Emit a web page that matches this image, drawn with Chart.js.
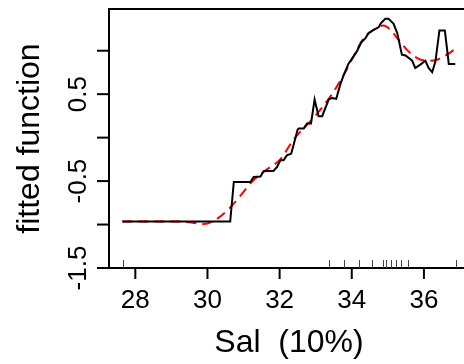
<!DOCTYPE html>
<html>
<head>
<meta charset="utf-8">
<script src="https://cdn.jsdelivr.net/npm/chart.js@4.4.1/dist/chart.umd.min.js"></script>
<style>
  html, body { margin: 0; padding: 0; background: #fff; overflow: hidden; }
  #wrap { width: 480px; height: 364px; }
</style>
</head>
<body>
<div id="wrap"><canvas id="c" width="480" height="364"></canvas></div>
<script>
// fitted function (black, step-like)
const fitX = [27.64, 30.63, 30.73, 31.19, 31.28, 31.47, 31.56, 31.83, 31.93, 32.02, 32.11, 32.2, 32.32, 32.39, 32.5, 32.53, 32.67, 32.76, 32.87, 32.97, 33.08, 33.18, 33.36, 33.45, 33.57, 33.68, 33.77, 33.91, 34.05, 34.14, 34.26, 34.38, 34.47, 34.61, 34.75, 34.81, 34.93, 35.02, 35.16, 35.26, 35.39, 35.49, 35.67, 35.76, 35.9, 36.04, 36.13, 36.23, 36.32, 36.43, 36.58, 36.69, 36.87];
const fitY = [-0.965, -0.965, -0.51, -0.51, -0.453, -0.448, -0.384, -0.384, -0.338, -0.26, -0.26, -0.204, -0.185, -0.078, 0.094, 0.106, 0.106, 0.163, 0.163, 0.438, 0.247, 0.247, 0.438, 0.457, 0.446, 0.61, 0.713, 0.851, 0.935, 0.992, 1.095, 1.145, 1.203, 1.241, 1.272, 1.318, 1.367, 1.367, 1.31, 1.203, 0.954, 0.946, 0.889, 0.801, 0.84, 0.885, 0.801, 0.752, 0.877, 1.233, 1.233, 0.848, 0.848];

// smooth (red dashed)
const smoothX = [27.64, 29.2, 29.6, 29.9, 30.22, 30.63, 30.91, 31.28, 31.65, 32.02, 32.39, 32.94, 33.41, 33.73, 34.05, 34.33, 34.61, 34.88, 35.07, 35.26, 35.53, 35.81, 36.09, 36.36, 36.64, 36.9];
const smoothY = [-0.965, -0.965, -0.98, -0.995, -0.946, -0.804, -0.67, -0.487, -0.365, -0.25, -0.02, 0.228, 0.476, 0.687, 0.935, 1.145, 1.241, 1.29, 1.241, 1.145, 1.01, 0.916, 0.885, 0.897, 0.954, 1.03];

// rug of observed Sal values
const rugX = [27.65, 33.36, 33.79, 34.19, 34.55, 34.86, 34.95, 35.08, 35.23, 35.37, 35.57, 36.88];

const xTicks = [28, 30, 32, 34, 36];
const yTicks = [-1.5, -1, -0.5, 0, 0.5, 1];
const yTickLabels = ['-1.5', '', '-0.5', '', '0.5', ''];

const toPts = (xs, ys) => xs.map((v, i) => ({ x: v, y: ys[i] }));

const FONT = '"Liberation Sans", Arial, sans-serif';

// R-style box, axes, rug and labels
const rAxes = {
  id: 'rAxes',
  afterDraw(chart) {
    const { ctx, chartArea: a, scales: { x, y } } = chart;
    ctx.save();
    ctx.strokeStyle = '#000';
    ctx.fillStyle = '#000';
    ctx.lineWidth = 2;
    ctx.strokeRect(a.left, a.top, a.right - a.left, a.bottom - a.top);

    // rug
    ctx.lineWidth = 1;
    ctx.strokeStyle = '#444';
    rugX.forEach(v => {
      const px = Math.round(x.getPixelForValue(v)) + 0.5;
      ctx.beginPath();
      ctx.moveTo(px, a.bottom);
      ctx.lineTo(px, a.bottom - 8);
      ctx.stroke();
    });

    ctx.strokeStyle = '#000';
    ctx.lineWidth = 2;
    ctx.font = '26px ' + FONT;

    // x axis ticks + labels
    ctx.textAlign = 'center';
    ctx.textBaseline = 'alphabetic';
    xTicks.forEach(v => {
      const px = x.getPixelForValue(v);
      ctx.beginPath();
      ctx.moveTo(px, a.bottom);
      ctx.lineTo(px, a.bottom + 11);
      ctx.stroke();
      ctx.fillText(String(v), px, 308);
    });

    // y axis ticks + rotated labels
    yTicks.forEach((v, i) => {
      const py = y.getPixelForValue(v);
      ctx.beginPath();
      ctx.moveTo(a.left, py);
      ctx.lineTo(a.left - 12, py);
      ctx.stroke();
      if (yTickLabels[i]) {
        ctx.save();
        ctx.translate(86, py);
        ctx.rotate(-Math.PI / 2);
        ctx.fillText(yTickLabels[i], 0, 0);
        ctx.restore();
      }
    });

    // axis titles
    ctx.font = '32px ' + FONT;
    ctx.fillText('Sal  (10%)', (a.left + a.right) / 2, 352);
    ctx.save();
    ctx.translate(39, (a.top + a.bottom) / 2);
    ctx.rotate(-Math.PI / 2);
    ctx.fillText('fitted function', 0, 0);
    ctx.restore();
    ctx.restore();
  }
};

new Chart(document.getElementById('c'), {
  type: 'line',
  data: {
    datasets: [
      {
        label: 'fit',
        data: toPts(fitX, fitY),
        borderColor: '#000',
        borderWidth: 2,
        pointRadius: 0,
        tension: 0
      },
      {
        label: 'smooth',
        data: toPts(smoothX, smoothY),
        borderColor: '#ff0000',
        borderWidth: 2,
        borderDash: [10, 6],
        pointRadius: 0,
        cubicInterpolationMode: 'monotone'
      }
    ]
  },
  options: {
    responsive: false,
    animation: false,
    layout: { padding: { left: 109, top: 9, right: 11, bottom: 96 } },
    plugins: { legend: { display: false }, tooltip: { enabled: false } },
    scales: {
      x: { type: 'linear', min: 27.27, max: 37.25, display: false },
      y: { type: 'linear', min: -1.5, max: 1.48, display: false }
    }
  },
  plugins: [rAxes]
});
</script>
</body>
</html>
